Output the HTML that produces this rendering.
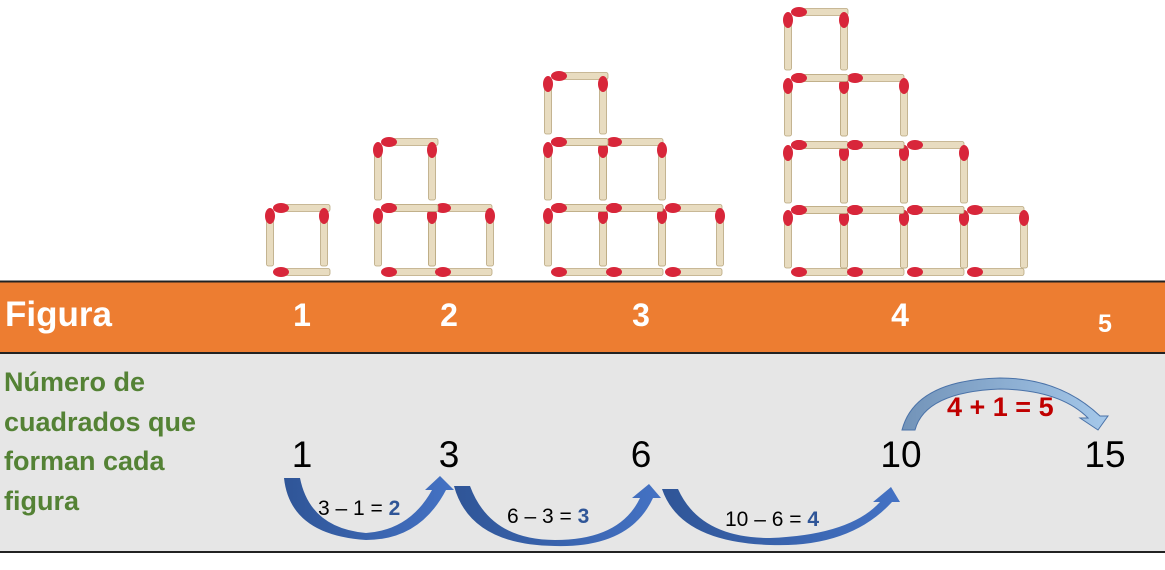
<!DOCTYPE html>
<html><head><meta charset="utf-8"><style>
body{margin:0;width:1165px;height:570px;background:#fff;overflow:hidden}
svg{display:block}
</style></head><body>
<svg id="s" width="1165" height="570" xmlns="http://www.w3.org/2000/svg">
<defs>
<linearGradient id="b1" x1="0" x2="1" y1="0" y2="0"><stop offset="0" stop-color="#2f5597"/><stop offset="1" stop-color="#4472c4"/></linearGradient>
<linearGradient id="b2" x1="0" x2="1" y1="0" y2="0"><stop offset="0" stop-color="#7293b8"/><stop offset="1" stop-color="#a5c8ea"/></linearGradient>
</defs>
<rect x="0" y="281" width="1165" height="72" fill="#ed7d31"/>
<rect x="0" y="353" width="1165" height="199" fill="#e6e6e6"/>
<line x1="0" y1="281.5" x2="1165" y2="281.5" stroke="#222" stroke-width="2"/>
<line x1="0" y1="353" x2="1165" y2="353" stroke="#222" stroke-width="2"/>
<line x1="0" y1="552" x2="1165" y2="552" stroke="#222" stroke-width="2"/>
<g id="m"></g>
<g font-family="Liberation Sans, sans-serif" font-weight="bold" fill="#fff">
<text x="5" y="326" font-size="35">Figura</text>
<text x="302" y="326" font-size="32" text-anchor="middle">1</text>
<text x="449" y="326" font-size="32" text-anchor="middle">2</text>
<text x="641" y="326" font-size="32" text-anchor="middle">3</text>
<text x="900" y="326" font-size="32" text-anchor="middle">4</text>
<text x="1105" y="332" font-size="25" text-anchor="middle">5</text>
</g>
<g font-family="Liberation Sans, sans-serif" font-weight="bold" fill="#548235" font-size="27">
<text x="4" y="391">Número de</text>
<text x="4" y="431">cuadrados que</text>
<text x="4" y="470">forman cada</text>
<text x="4" y="510">figura</text>
</g>
<g font-family="Liberation Sans, sans-serif" fill="#000" font-size="37" text-anchor="middle">
<text x="302" y="467">1</text>
<text x="449" y="467">3</text>
<text x="641" y="467">6</text>
<text x="901" y="467">10</text>
<text x="1105" y="467">15</text>
</g>
<path d="M284,478 L300,478 Q310,528 366,533 Q410,530 432,490 L425,490 L440,476 L454,490 L446,490 Q420,540 366,540 Q290,535 284,478Z" fill="url(#b1)"/>
<path d="M454,486 L470,486 Q490,540 555,540 Q620,540 640,498 L632,498 L649,484 L661,498 L653,498 Q630,548 555,546 Q470,545 454,486Z" fill="url(#b1)"/>
<path d="M662,489 L678,489 Q700,538 770,538 Q850,535 880,502 L873,502 L891,487 L900,502 L892,502 Q850,548 770,545 Q680,542 662,489Z" fill="url(#b1)"/>
<path d="M902,430 L915,430 Q925,392 1000,389 Q1060,390 1088,418 L1080,418 L1098,430 L1108,416 L1100,416 Q1060,378 1000,378 Q915,380 902,430Z" fill="url(#b2)" stroke="#4a72a8" stroke-width="1"/>
<g font-family="Liberation Sans, sans-serif" font-size="21" fill="#000">
<text x="318" y="515">3 – 1 = <tspan font-weight="bold" fill="#2f5597">2</tspan></text>
<text x="507" y="523">6 – 3 = <tspan font-weight="bold" fill="#2f5597">3</tspan></text>
<text x="725" y="526">10 – 6 = <tspan font-weight="bold" fill="#2f5597">4</tspan></text>
</g>
<text x="947" y="416" font-family="Liberation Sans, sans-serif" font-size="27" font-weight="bold" fill="#c00000">4 + 1 = 5</text>
</svg>
<script>
var g=document.getElementById('m'),h='';
function H(x,y){h+='<rect x="'+(x+6)+'" y="'+(y-3.5)+'" width="50" height="7" rx="2" fill="#e8dcc0" stroke="#b9a77e" stroke-width="0.8"/><ellipse cx="'+(x+7)+'" cy="'+y+'" rx="8" ry="5" fill="#d8263a"/>';}
function V(x,y){h+='<rect x="'+(x-3.5)+'" y="'+(y+4)+'" width="7" height="54" rx="2" fill="#e8dcc0" stroke="#b9a77e" stroke-width="0.8"/><ellipse cx="'+x+'" cy="'+(y+8)+'" rx="5" ry="8" fill="#d8263a"/>';}
function fig(xs,ys){var n=xs.length-1;for(var r=0;r<n;r++){var row=ys.length-2-r;for(var c=0;c<n-r;c++){var x=xs[c],x2=xs[c+1],y=ys[row],y2=ys[row+1];H(x+4,y);V(x,y);V(x2,y);H(x+4,y2);}}}
fig([270,324],[208,272]);
fig([378,432,490],[142,208,272]);
fig([548,603,662,720],[76,142,208,272]);
fig([788,844,904,964,1024],[12,78,145,210,272]);
g.innerHTML=h;
</script>
</body></html>
